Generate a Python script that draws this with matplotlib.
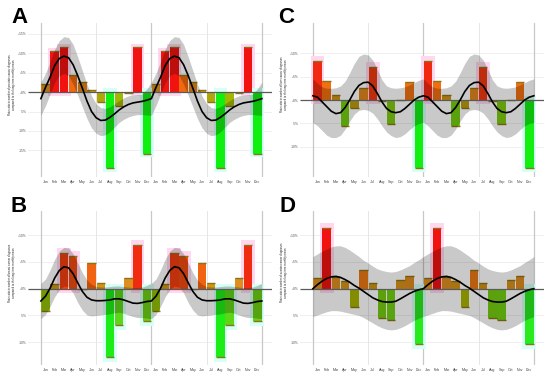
import numpy as np
import matplotlib
matplotlib.use("Agg")
import matplotlib.pyplot as plt
from matplotlib.colors import LinearSegmentedColormap

plt.rcParams['font.family'] = ['Liberation Sans', 'DejaVu Sans']

months = ["Jan", "Feb", "Mar", "Apr", "May", "Jun",
          "Jul", "Aug", "Sep", "Oct", "Nov", "Dec"]

# monthly rate ratios (%) - one year, shown twice
a_bars = [2.1, 10.4, 11.5, 4.4, 2.6, 0.6, -2.6, -19.5, -3.7, -0.3, 11.5, -15.8]
b_bars = [-4.25, 0.9, 6.7, 6.1, 0.0, 4.8, 1.1, -12.7, -6.75, 2.0, 8.1, -6.0]
c_bars = [8.4, 4.1, 1.1, -5.6, -1.6, 2.6, 7.1, -0.2, -5.1, -0.1, 3.9, -14.5]
d_bars = [2.0, 11.3, 2.1, 1.4, -3.4, 3.5, 1.1, -5.5, -5.8, 1.7, 2.3, -10.4]

# fitted curve and confidence band, read every half month (Jan 1 .. Dec 31)
a_fit = [-1.7, 1.2, 3.8, 6.8, 8.6, 9.2, 8.8, 7.0, 4.2, 1.0, -2.3, -5.0, -6.6,
         -7.3, -7.2, -6.5, -5.6, -4.6, -3.8, -3.2, -2.8, -2.6, -2.4, -2.1, -1.7]
a_hi = [2.5, 4.8, 7.8, 11.0, 13.2, 14.2, 14.0, 12.2, 9.0, 5.5, 2.0, -1.0, -3.0,
        -4.0, -4.2, -3.8, -3.0, -2.2, -1.5, -1.0, -0.8, -0.7, -0.5, 0.8, 2.5]
a_lo = [-6.0, -3.5, -0.5, 2.5, 4.2, 4.8, 4.2, 2.0, -0.8, -3.8, -6.8, -9.2, -10.6,
        -11.2, -11.0, -10.2, -9.0, -7.8, -7.0, -6.4, -6.0, -5.8, -5.8, -5.9, -6.0]

b_fit = [-2.3, -1.4, 0.1, 2.0, 3.4, 4.1, 3.9, 2.8, 1.1, -0.5, -1.6, -2.1, -2.25,
         -2.25, -2.2, -2.1, -1.9, -1.9, -2.1, -2.4, -2.7, -2.75, -2.6, -2.4, -2.3]
b_hi = [1.0, 1.8, 3.5, 5.5, 7.0, 7.7, 7.6, 6.5, 4.8, 3.0, 1.6, 0.8, 0.4,
        0.3, 0.3, 0.4, 0.5, 0.5, 0.4, 0.3, 0.2, 0.2, 0.3, 0.6, 1.0]
b_lo = [-5.6, -4.8, -3.3, -1.5, -0.2, 0.5, 0.3, -0.8, -2.6, -4.0, -4.9, -5.1, -5.0,
        -4.9, -4.8, -4.7, -4.5, -4.4, -4.6, -4.9, -5.2, -5.4, -5.4, -5.5, -5.6]

c_fit = [0.9, 0.6, -0.4, -1.4, -2.4, -2.9, -2.7, -1.6, 0.0, 1.8, 3.1, 3.7, 3.8,
         3.0, 1.4, -0.4, -1.8, -2.5, -2.7, -2.5, -1.8, -0.9, 0.0, 0.6, 0.9]
c_hi = [4.5, 3.5, 2.8, 2.5, 2.5, 2.6, 3.0, 4.0, 5.8, 7.8, 9.3, 9.8, 9.6,
        8.5, 6.5, 4.3, 3.0, 2.6, 2.5, 2.6, 2.8, 3.2, 3.7, 4.2, 4.5]
c_lo = [-4.8, -5.5, -6.5, -7.5, -8.0, -8.0, -7.5, -6.2, -4.5, -3.0, -2.2, -2.0, -2.2,
        -2.8, -4.0, -5.5, -6.8, -7.6, -8.0, -7.8, -7.2, -6.3, -5.5, -5.0, -4.8]

d_fit = [0.0, 0.75, 1.4, 1.9, 2.2, 2.3, 2.1, 1.7, 1.2, 0.6, 0.1, -0.5, -1.1,
         -1.7, -2.1, -2.4, -2.5, -2.5, -2.35, -1.9, -1.4, -0.9, -0.5, -0.2, 0.0]
d_hi = [6.0, 6.5, 7.0, 7.4, 7.8, 8.0, 8.0, 7.7, 7.2, 6.6, 6.0, 5.3, 4.8,
        4.2, 3.7, 3.4, 3.2, 3.1, 3.2, 3.5, 3.9, 4.3, 4.9, 5.4, 6.0]
d_lo = [-5.2, -4.9, -4.6, -4.3, -4.1, -4.1, -4.2, -4.4, -4.6, -4.8, -5.0, -5.4, -5.9,
        -6.4, -6.9, -7.3, -7.6, -7.7, -7.6, -7.3, -6.9, -6.4, -5.9, -5.5, -5.2]

cancers = ["prostate", "breast", "liver", "ovarian"]
letters = ["A", "B", "C", "D"]

# ---------------- styling ----------------
W, H = 550, 378
fig = plt.figure(figsize=(W / 100, H / 100), dpi=100)

nodes = [(-15, '#10f010'), (-9, '#30e820'), (-5, '#80c810'), (-3.5, '#a8b400'),
         (-2, '#b89c10'), (0, '#c89a00'), (2, '#dc9020'), (4, '#f07010'),
         (7, '#f03c10'), (10, '#f01410'), (15, '#f01010')]
cmap = LinearSegmentedColormap.from_list(
    "rg", [((v + 15) / 30, c) for v, c in nodes])


def bar_color(v):
    return cmap((np.clip(v, -15, 15) + 15) / 30)


panels = [
    dict(bars=a_bars, fit=a_fit, hi=a_hi, lo=a_lo, ylim=(-21.8, 17.7),
         ticks=[-15, -10, -5, 0, 5, 10, 15], box=(28, 23, 272, 177)),
    dict(bars=b_bars, fit=b_fit, hi=b_hi, lo=b_lo, ylim=(-14.25, 14.5),
         ticks=[-10, -5, 0, 5, 10], box=(28, 211, 272, 365)),
    dict(bars=c_bars, fit=c_fit, hi=c_hi, lo=c_lo, ylim=(-16.4, 16.4),
         ticks=[-10, -5, 0, 5, 10], box=(300, 23, 544, 177)),
    dict(bars=d_bars, fit=d_fit, hi=d_hi, lo=d_lo, ylim=(-14.25, 14.5),
         ticks=[-10, -5, 0, 5, 10], box=(300, 211, 544, 365)),
]
letter_pos = [(11, 23), (11, 212), (278, 23), (280, 212)]

for p, cancer, letter, lp in zip(panels, cancers, letters, letter_pos):
    x0, y0, x1, y1 = p['box']
    ax = fig.add_axes([x0 / W, 1 - y1 / H, (x1 - x0) / W, (y1 - y0) / H])
    ax.set_xlim(-1.4, 25.1)
    ax.set_ylim(*p['ylim'])
    for s in ax.spines.values():
        s.set_visible(False)

    bars = list(p['bars']) * 2
    xs = np.arange(24) + 0.5
    fit = list(p['fit'][:-1]) * 2 + [p['fit'][-1]]
    hi = list(p['hi'][:-1]) * 2 + [p['hi'][-1]]
    lo = list(p['lo'][:-1]) * 2 + [p['lo'][-1]]
    xf = np.arange(len(fit)) * 0.5

    # grid
    for t in p['ticks']:
        if t != 0:
            ax.axhline(t, color='#ececec', lw=0.6, zorder=0)
    for m in (0, 12, 24):
        ax.axvline(m, color='#c8c8c8', lw=0.9, zorder=0)
    for m in (6, 18):
        ax.axvline(m, color='#e6e6e6', lw=0.7, zorder=0)

    # halos
    for x, v in zip(xs, bars):
        if v >= 5:
            ax.bar(x, v + 1.8, bottom=-0.9, width=1.5, color='#ffd8ef',
                   lw=0, zorder=1)
        elif v <= -6:
            ax.bar(x, v - 1.8, bottom=0.9, width=1.5, color='#d6fff6',
                   lw=0, zorder=1)

    ax.bar(xs, bars, width=0.92, color=[bar_color(v) for v in bars],
           lw=0, zorder=2)
    ax.hlines(bars, xs - 0.46, xs + 0.46, color='#8a7418', lw=1.0, zorder=2.5)

    ax.fill_between(xf, lo, hi, color='black', alpha=0.21, lw=0, zorder=3)
    ax.plot([-1.4, 25.1], [0, 0], color='#5a5a5a', lw=0.9, zorder=4,
            solid_capstyle='butt')
    ax.plot(xf, fit, color='black', lw=1.2, zorder=5)

    ax.set_yticks(p['ticks'])
    ax.set_yticklabels([("+%d%%" % t) if t >= 0 else ("%d%%" % t)
                        for t in p['ticks']])
    ax.set_xticks(xs)
    ax.set_xticklabels(months * 2)
    ax.tick_params(axis='y', length=0, pad=1, labelsize=2.4, labelcolor='#555555')
    ax.tick_params(axis='x', length=0, pad=2.5, labelsize=2.6, labelcolor='#444444')

    ax.text(-0.065, 0.6,
            "Rate ratio in number of %s cancer diagnoses\n"
            "compared to the long-term monthly mean" % cancer,
            transform=ax.transAxes, rotation=90, ha='center', va='center',
            fontsize=2.0, linespacing=1.1, color='#222222')

    fig.text(lp[0] / W, 1 - lp[1] / H, letter, fontsize=16, fontweight='bold',
             ha='left', va='baseline')

fig.savefig("out.png", dpi=100)
